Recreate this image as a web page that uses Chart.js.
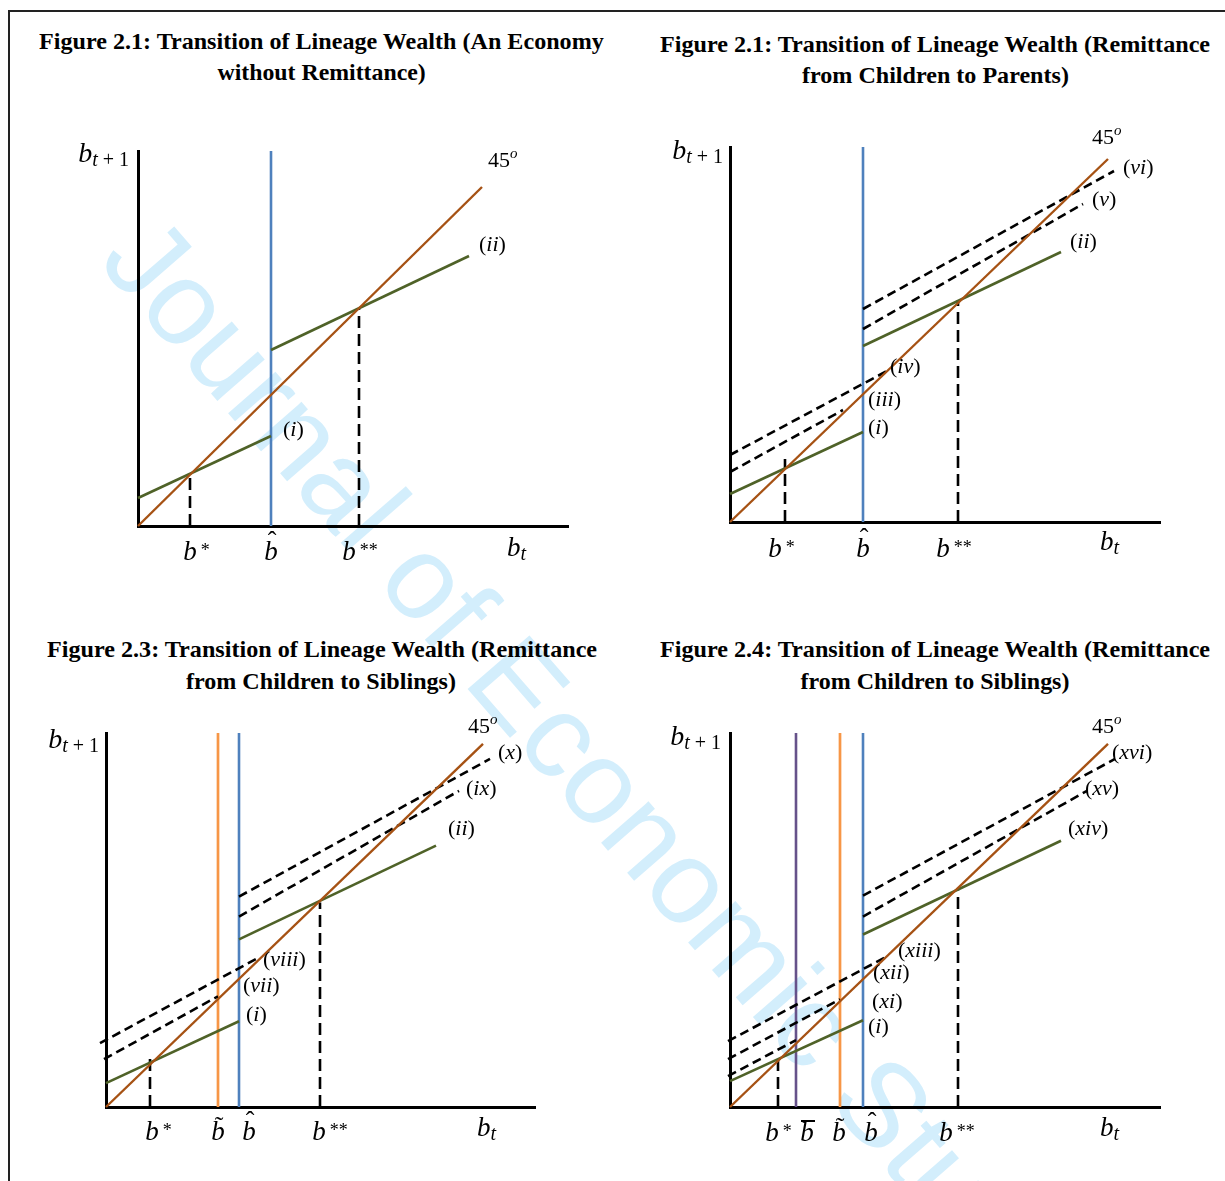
<!DOCTYPE html>
<html>
<head>
<meta charset="utf-8">
<script src="https://cdn.jsdelivr.net/npm/chart.js@4.4.1/dist/chart.umd.min.js"></script>
<style>
  html, body { margin:0; padding:0; background:#fff; }
  body { width:1225px; height:1181px; position:relative; overflow:hidden; }
  #frame { position:absolute; left:8px; top:10px; width:1400px; height:1400px; border-left:2px solid #222; border-top:2px solid #222; }
  #wm { position:absolute; left:0; top:0; font-family:"Liberation Sans", Arial, sans-serif; font-size:119px; line-height:1; color:#d3eefc; white-space:nowrap; transform-origin:0 0; }
  .ttl { position:absolute; font-family:"Liberation Serif","Times New Roman",serif; font-weight:bold; font-size:23px; line-height:1; white-space:nowrap; color:#000; transform-origin:50% 50%; }
  canvas { position:absolute; }
</style>
</head>
<body>
<div id="frame"></div>
<div id="wm">Journal of Economic Studies</div>

<div class="ttl" data-cx="321" data-base="49.5" data-w="565">Figure 2.1: Transition of Lineage Wealth (An Economy</div>
<div class="ttl" data-cx="321" data-base="80" data-w="208">without Remittance)</div>
<div class="ttl" data-cx="935" data-base="52" data-w="550">Figure 2.1: Transition of Lineage Wealth (Remittance</div>
<div class="ttl" data-cx="935" data-base="83" data-w="267">from Children to Parents)</div>
<div class="ttl" data-cx="322" data-base="657" data-w="550">Figure 2.3: Transition of Lineage Wealth (Remittance</div>
<div class="ttl" data-cx="321" data-base="689" data-w="270">from Children to Siblings)</div>
<div class="ttl" data-cx="935" data-base="657" data-w="550">Figure 2.4: Transition of Lineage Wealth (Remittance</div>
<div class="ttl" data-cx="934.5" data-base="689" data-w="269">from Children to Siblings)</div>

<canvas id="c1"></canvas>
<canvas id="c2"></canvas>
<canvas id="c3"></canvas>
<canvas id="c4"></canvas>

<script>
// ================= DATA (arbitrary units) =================
// Figure 2.1 : An Economy without Remittance
const f1SeriesNames = ['45', 'i', 'ii'];
const f1SeriesX = [[0, 344], [0, 133], [133, 331]];
const f1SeriesY = [[0, 339], [28, 90], [176, 270]];
const f1TickNames = ['b*', 'b\u0302', 'b**'];
const f1TickValues = [52, 133, 221];
const f1DropHeights = [51, null, 218];

// Figure 2.1 : Remittance from Children to Parents
const f2SeriesNames = ['45', 'i', 'ii', 'iii', 'iv', 'v', 'vi'];
const f2SeriesX = [[0, 378], [0, 133], [133, 331], [0, 113], [0, 157], [133, 353], [133, 384]];
const f2SeriesY = [[0, 363], [28, 90], [176, 270], [50, 112], [67, 151], [193, 318], [213, 351]];
const f2TickNames = ['b*', 'b\u0302', 'b**'];
const f2TickValues = [55, 133, 228];
const f2DropHeights = [63, null, 222];

// Figure 2.3 : Remittance from Children to Siblings
const f3SeriesNames = ['45', 'i', 'ii', 'vii', 'viii', 'ix', 'x'];
const f3SeriesX = [[0, 377], [0, 133], [133, 330], [-2, 112], [-6, 153], [133, 353], [133, 384]];
const f3SeriesY = [[0, 364], [24, 86], [168, 262], [48, 111], [64, 150], [191, 317], [211, 349]];
const f3TickNames = ['b*', 'b\u0303', 'b\u0302', 'b**'];
const f3TickValues = [44, 112, 133, 214];
const f3DropHeights = [49, null, null, 205];

// Figure 2.4 : Remittance from Children to Siblings
const f4SeriesNames = ['45', 'i', 'xiv', 'xi', 'xii', 'xiii', 'xv', 'xvi'];
const f4SeriesX = [[0, 378], [0, 133], [133, 331], [-2, 66], [-2, 110], [-2, 157], [133, 357], [133, 385]];
const f4SeriesY = [[0, 364], [26, 87], [173, 267], [31, 67], [48, 108], [66, 151], [191, 317], [212, 349]];
const f4TickNames = ['b*', 'b\u0304', 'b\u0303', 'b\u0302', 'b**'];
const f4TickValues = [48, 66, 110, 133, 228];
const f4DropHeights = [47, null, null, null, 217];

// axis extents (arbitrary units)
const f1Range = [430, 375];
const f2Range = [430, 375];
const f3Range = [429, 375];
const f4Range = [430, 375];

// ================= STYLES =================
const SERIF = '"Liberation Serif", "Times New Roman", serif';
const STYLE_45 = { color: '#A65214', width: 2.4, dash: [] };
const STYLE_GREEN = { color: '#4F6228', width: 2.6, dash: [] };
const STYLE_DASHED = { color: '#000000', width: 2.6, dash: [9, 5] };
const GREEN_SERIES = ['i', 'ii', 'xiv'];
const TICK_LINE_STYLE = {
  'b*': { color: '#000000', width: 2.6, dash: [12, 6] },
  'b**': { color: '#000000', width: 2.6, dash: [12, 6] },
  'b\u0302': { color: '#4F81BD', width: 2.6, dash: [] },
  'b\u0303': { color: '#F79646', width: 2.7, dash: [] },
  'b\u0304': { color: '#66528A', width: 2.6, dash: [] }
};

// ================= LAYOUT (page pixels / label nudges) =================
const f1Layout = {
  area: { left: 138, top: 151, right: 568, bottom: 526 },
  canvas: { left: 20, top: 95, width: 590, height: 490 },
  seriesLabel: { '45': [6, -20], 'i': [12, 0], 'ii': [10, -5] },
  tickDx: { 'b*': 0, 'b\u0302': 0, 'b**': -10 },
  tickBase: 34, bt: [369, 30], btp1: [-9, 11]
};
const f2Layout = {
  area: { left: 730, top: 147, right: 1160, bottom: 522 },
  canvas: { left: 640, top: 95, width: 580, height: 490 },
  seriesLabel: { '45': [-16, -15], 'vi': [9, 3], 'v': [9, 2], 'ii': [9, -4], 'iv': [3, 2], 'iii': [25, -4], 'i': [5, 2] },
  tickDx: { 'b*': -10, 'b\u0302': 0, 'b**': -15 },
  tickBase: 35, bt: [370, 28], btp1: [-7, 12]
};
const f3Layout = {
  area: { left: 106, top: 733, right: 535, bottom: 1107 },
  canvas: { left: 20, top: 700, width: 590, height: 470 },
  seriesLabel: { '45': [-15, -11], 'x': [8, 0], 'ix': [7, 4], 'ii': [12, -11], 'viii': [4, 9], 'vii': [25, -4], 'i': [7, 0] },
  tickDx: { 'b*': 2, 'b\u0303': 0, 'b\u0302': 10, 'b**': -1 },
  tickBase: 33, bt: [371, 29], btp1: [-7, 15]
};
const f4Layout = {
  area: { left: 730, top: 733, right: 1160, bottom: 1107 },
  canvas: { left: 640, top: 700, width: 580, height: 470 },
  seriesLabel: { '45': [-16, -11], 'xvi': [-3, 0], 'xv': [-2, 4], 'xiv': [7, -6], 'xiii': [11, 1], 'xii': [33, -20], 'xi': [76, -32], 'i': [5, 13] },
  tickDx: { 'b*': -6, 'b\u0304': 11, 'b\u0303': -1, 'b\u0302': 8, 'b**': -12 },
  tickBase: 34, bt: [370, 29], btp1: [-9, 12]
};

// ================= HELPERS =================
function drawRuns(ctx, x, y, runs) {
  ctx.textAlign = 'left';
  let cx = x;
  runs.forEach(r => {
    ctx.font = r.f;
    ctx.fillText(r.t, cx, y + (r.dy || 0));
    cx += ctx.measureText(r.t).width;
  });
  return cx - x;
}
function runsWidth(ctx, runs) {
  let w = 0;
  runs.forEach(r => { ctx.font = r.f; w += ctx.measureText(r.t).width; });
  return w;
}
function drawTick(ctx, name, x, y) {
  ctx.font = 'italic 27px ' + SERIF;
  ctx.textAlign = 'center';
  ctx.fillText('b', x, y);
  const wb = ctx.measureText('b').width;
  const mark = name.slice(1);
  if (mark === '*' || mark === '**') {
    ctx.font = '18px ' + SERIF;
    ctx.textAlign = 'left';
    ctx.fillText(mark, x + wb / 2 + 4, y - 4);
  } else if (mark === '\u0302') {
    ctx.font = '26px ' + SERIF;
    ctx.fillText('\u02C6', x + 1, y - 11);
  } else if (mark === '\u0303') {
    ctx.font = '26px ' + SERIF;
    ctx.fillText('\u02DC', x + 1, y - 6);
  } else if (mark === '\u0304') {
    ctx.fillRect(x - 6, y - 21, 14, 2);
  }
}

function labelPlugin(L, tickNames, tickValues) {
  return {
    id: 'econLabels',
    afterDatasetsDraw(chart) {
      const ctx = chart.ctx, xs = chart.scales.x, ys = chart.scales.y, a = chart.chartArea;
      ctx.save();
      ctx.fillStyle = '#000';
      ctx.textBaseline = 'alphabetic';
      chart.data.datasets.forEach(ds => {
        const off = L.seriesLabel[ds.key];
        if (!off) return;
        const p = ds.data[ds.data.length - 1];
        const x = xs.getPixelForValue(p.x) + off[0];
        const y = ys.getPixelForValue(p.y) + off[1];
        if (ds.key === '45') {
          drawRuns(ctx, x, y, [{ t: '45', f: '22px ' + SERIF }, { t: 'o', f: 'italic 15px ' + SERIF, dy: -9 }]);
        } else {
          drawRuns(ctx, x, y, [{ t: '(', f: '22px ' + SERIF }, { t: ds.key, f: 'italic 22px ' + SERIF }, { t: ')', f: '22px ' + SERIF }]);
        }
      });
      tickNames.forEach((t, i) => {
        drawTick(ctx, t, xs.getPixelForValue(tickValues[i]) + L.tickDx[t], a.bottom + L.tickBase);
      });
      drawRuns(ctx, a.left + L.bt[0], a.bottom + L.bt[1], [
        { t: 'b', f: 'italic 27px ' + SERIF }, { t: 't', f: 'italic 20px ' + SERIF, dy: 4 }]);
      const yRuns = [{ t: 'b', f: 'italic 28px ' + SERIF }, { t: 't', f: 'italic 20px ' + SERIF, dy: 4 }, { t: ' + 1', f: '20px ' + SERIF, dy: 4 }];
      const w = runsWidth(ctx, yRuns);
      drawRuns(ctx, a.left + L.btp1[0] - w, a.top + L.btp1[1], yRuns);
      ctx.restore();
    }
  };
}

function axisOpts(max) {
  return {
    type: 'linear', min: 0, max: max, display: true,
    grid: { display: false, drawTicks: false },
    ticks: { display: false },
    border: { display: true, color: '#000', width: 3 }
  };
}

function makeChart(id, L, names, sx, sy, tickNames, tickValues, dropHeights, range) {
  const cv = document.getElementById(id);
  cv.width = L.canvas.width; cv.height = L.canvas.height;
  cv.style.left = L.canvas.left + 'px'; cv.style.top = L.canvas.top + 'px';
  const common = { pointRadius: 0, pointHoverRadius: 0, fill: false, tension: 0, clip: false, showLine: true };
  const datasets = [];
  names.forEach((n, i) => {
    const st = n === '45' ? STYLE_45 : (GREEN_SERIES.includes(n) ? STYLE_GREEN : STYLE_DASHED);
    datasets.push(Object.assign({
      key: n, label: n,
      data: sx[i].map((x, j) => ({ x: x, y: sy[i][j] })),
      borderColor: st.color, borderWidth: st.width, borderDash: st.dash
    }, common));
  });
  tickNames.forEach((t, i) => {
    const st = TICK_LINE_STYLE[t];
    const top = dropHeights[i] == null ? range[1] : dropHeights[i];
    datasets.push(Object.assign({
      key: 'tick' + i, label: t,
      data: [{ x: tickValues[i], y: 0 }, { x: tickValues[i], y: top }],
      borderColor: st.color, borderWidth: st.width, borderDash: st.dash
    }, common));
  });
  return new Chart(cv, {
    type: 'line',
    data: { datasets: datasets },
    options: {
      responsive: false, animation: false, events: [],
      layout: { padding: {
        left: L.area.left - L.canvas.left,
        top: L.area.top - L.canvas.top,
        right: L.canvas.left + L.canvas.width - L.area.right,
        bottom: L.canvas.top + L.canvas.height - L.area.bottom } },
      scales: { x: axisOpts(range[0]), y: axisOpts(range[1]) },
      plugins: { legend: { display: false }, tooltip: { enabled: false } }
    },
    plugins: [labelPlugin(L, tickNames, tickValues)]
  });
}

// ================= TITLES & WATERMARK =================
document.querySelectorAll('.ttl').forEach(el => {
  const w0 = el.offsetWidth;
  const fs = 23, base = fs * (1 - 1.107) / 2 + fs * 0.891;
  el.style.left = (parseFloat(el.dataset.cx) - w0 / 2) + 'px';
  el.style.top = (parseFloat(el.dataset.base) - base) + 'px';
  el.style.transform = 'scaleX(' + (parseFloat(el.dataset.w) / w0) + ')';
});
(function () {
  const wm = document.getElementById('wm');
  const deg = 49, th = deg * Math.PI / 180, fs = 119;
  const b0 = fs * (1 - 1.117) / 2 + fs * 0.905;
  const bx = 97, by = 262;
  wm.style.left = (bx + b0 * Math.sin(th)) + 'px';
  wm.style.top = (by - b0 * Math.cos(th)) + 'px';
  wm.style.transform = 'rotate(' + deg + 'deg)';
})();

// ================= CHARTS =================
makeChart('c1', f1Layout, f1SeriesNames, f1SeriesX, f1SeriesY, f1TickNames, f1TickValues, f1DropHeights, f1Range);
makeChart('c2', f2Layout, f2SeriesNames, f2SeriesX, f2SeriesY, f2TickNames, f2TickValues, f2DropHeights, f2Range);
makeChart('c3', f3Layout, f3SeriesNames, f3SeriesX, f3SeriesY, f3TickNames, f3TickValues, f3DropHeights, f3Range);
makeChart('c4', f4Layout, f4SeriesNames, f4SeriesX, f4SeriesY, f4TickNames, f4TickValues, f4DropHeights, f4Range);
</script>
</body>
</html>
